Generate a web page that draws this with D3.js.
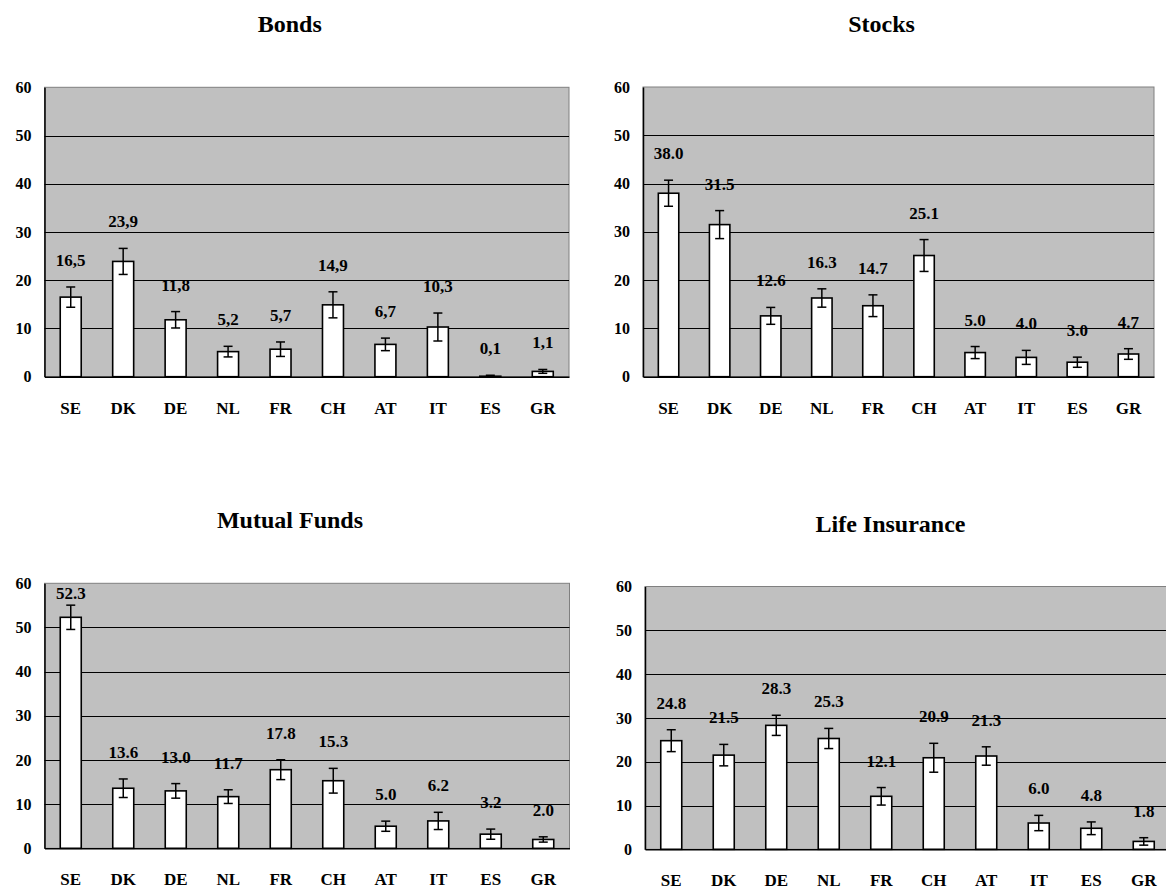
<!DOCTYPE html>
<html>
<head>
<meta charset="utf-8">
<script src="https://cdn.jsdelivr.net/npm/d3@7"></script>
<style>
  html, body { margin: 0; padding: 0; background: #fff; }
  svg { display: block; }
  text { font-family: "Liberation Serif", "Times New Roman", serif; font-weight: bold; fill: #000; }
</style>
</head>
<body>
<svg id="chart" width="1166" height="891"></svg>
<script>
// ---- data ----
const categories = ["SE", "DK", "DE", "NL", "FR", "CH", "AT", "IT", "ES", "GR"];
const yTicks = [0, 10, 20, 30, 40, 50, 60];

const bondsTitle = "Bonds";
const bondsValues = [16.5, 23.9, 11.8, 5.2, 5.7, 14.9, 6.7, 10.3, 0.1, 1.1];
const bondsErrors = [2.1, 2.7, 1.7, 1.1, 1.5, 2.7, 1.3, 2.9, 0.2, 0.4];

const stocksTitle = "Stocks";
const stocksValues = [38.0, 31.5, 12.6, 16.3, 14.7, 25.1, 5.0, 4.0, 3.0, 4.7];
const stocksErrors = [2.7, 2.9, 1.75, 1.9, 2.25, 3.3, 1.25, 1.45, 1.05, 1.1];

const mutualTitle = "Mutual Funds";
const mutualValues = [52.3, 13.6, 13.0, 11.7, 17.8, 15.3, 5.0, 6.2, 3.2, 2.0];
const mutualErrors = [2.75, 2.1, 1.65, 1.55, 2.25, 2.8, 1.15, 1.95, 1.15, 0.6];

const lifeTitle = "Life Insurance";
const lifeValues = [24.8, 21.5, 28.3, 25.3, 12.1, 20.9, 21.3, 6.0, 4.8, 1.8];
const lifeErrors = [2.5, 2.45, 2.3, 2.3, 2.0, 3.3, 2.1, 1.75, 1.45, 0.85];

// ---- layout (pixels) ----
const panels = [
  { title: bondsTitle,  values: bondsValues,  errors: bondsErrors,  decimal: ",", x0: 44.5, x1: 569,  y0: 376.7, y1: 87.3 },
  { title: stocksTitle, values: stocksValues, errors: stocksErrors, decimal: ".", x0: 643,  x1: 1154, y0: 376.7, y1: 87.0 },
  { title: mutualTitle, values: mutualValues, errors: mutualErrors, decimal: ".", x0: 44.5, x1: 569.5, y0: 848.3, y1: 583.3 },
  { title: lifeTitle,   values: lifeValues,   errors: lifeErrors,   decimal: ".", x0: 645,  x1: 1170, y0: 849.3, y1: 586.5 }
];

const svg = d3.select("#chart");
svg.append("rect").attr("width", 1166).attr("height", 891).attr("fill", "#fff");

const fmt = d3.format(".1f");

panels.forEach(p => {
  const g = svg.append("g");
  const x = d3.scaleBand().domain(categories).range([p.x0, p.x1]).padding(0);
  const y = d3.scaleLinear().domain([0, 60]).range([p.y0, p.y1]);
  const barW = x.bandwidth() / 2.5;

  // plot area
  g.append("rect")
    .attr("x", p.x0).attr("y", y(60))
    .attr("width", p.x1 - p.x0).attr("height", y(0) - y(60))
    .attr("fill", "#c0c0c0").attr("stroke", "#808080").attr("stroke-width", 1);

  // gridlines
  g.selectAll("line.grid").data(yTicks.filter(t => t > 0 && t < 60)).enter().append("line")
    .attr("x1", p.x0).attr("x2", p.x1)
    .attr("y1", d => Math.round(y(d)) + 0.5).attr("y2", d => Math.round(y(d)) + 0.5)
    .attr("stroke", "#000").attr("stroke-width", 1);

  // y axis
  const yAxis = d3.axisLeft(y).tickValues(yTicks).tickSize(0).tickPadding(13).tickFormat(d3.format("d"));
  const ya = g.append("g").attr("transform", `translate(${p.x0},0)`).call(yAxis);
  ya.select(".domain").attr("stroke", "#000").attr("stroke-width", 1.5);
  ya.selectAll("text").attr("font-size", 16).attr("font-family", "Liberation Serif").attr("font-weight", "bold");

  // x axis
  const xAxis = d3.axisBottom(x).tickSize(0).tickPadding(25);
  const xa = g.append("g").attr("transform", `translate(0,${p.y0})`).call(xAxis);
  xa.select(".domain").attr("stroke", "#000").attr("stroke-width", 1.5);
  xa.selectAll("text").attr("font-size", 17).attr("font-family", "Liberation Serif").attr("font-weight", "bold");

  const rows = categories.map((c, i) => ({ c, v: p.values[i], e: p.errors[i] }));

  // bars
  g.selectAll("rect.bar").data(rows).enter().append("rect")
    .attr("x", d => x(d.c) + x.bandwidth() / 2 - barW / 2)
    .attr("y", d => y(d.v))
    .attr("width", barW)
    .attr("height", d => y(0) - y(d.v))
    .attr("fill", "#fff").attr("stroke", "#000").attr("stroke-width", 1.6);

  // error bars
  const eb = g.selectAll("g.err").data(rows).enter().append("g")
    .attr("transform", d => `translate(${x(d.c) + x.bandwidth() / 2},0)`);
  eb.append("line").attr("x1", 0).attr("x2", 0)
    .attr("y1", d => y(d.v + d.e)).attr("y2", d => y(Math.max(0, d.v - d.e)))
    .attr("stroke", "#000").attr("stroke-width", 1.5);
  eb.append("line").attr("x1", -4.5).attr("x2", 4.5)
    .attr("y1", d => y(d.v + d.e)).attr("y2", d => y(d.v + d.e))
    .attr("stroke", "#000").attr("stroke-width", 1.5);
  eb.append("line").attr("x1", -4.5).attr("x2", 4.5)
    .attr("y1", d => y(Math.max(0, d.v - d.e))).attr("y2", d => y(Math.max(0, d.v - d.e)))
    .attr("stroke", "#000").attr("stroke-width", 1.5);

  // value labels (kept inside the plot area)
  g.selectAll("text.val").data(rows).enter().append("text")
    .attr("x", d => x(d.c) + x.bandwidth() / 2)
    .attr("y", d => Math.max(y(d.v + d.e) - 21, y(60) + 16))
    .attr("text-anchor", "middle")
    .attr("font-size", 17)
    .text(d => fmt(d.v).replace(".", p.decimal));

  // title
  g.append("text")
    .attr("x", (p.x0 + p.x1) / 2 - 17)
    .attr("y", y(60) - 55)
    .attr("text-anchor", "middle")
    .attr("font-size", 24)
    .text(p.title);
});
</script>
</body>
</html>
